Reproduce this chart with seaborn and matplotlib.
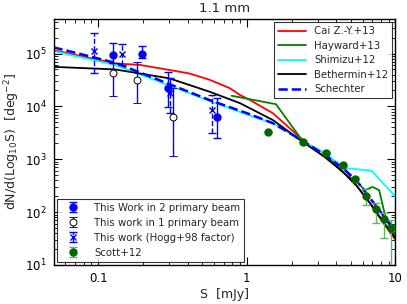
import numpy as np
import pandas as pd
import matplotlib
matplotlib.use("Agg")
import matplotlib.pyplot as plt
import seaborn as sns
from matplotlib.ticker import FixedLocator, NullFormatter, LogLocator

# ---------------- data ----------------
# This work, 2 primary beam
s_two = [0.126, 0.198, 0.296, 0.632]
n_two = [9.5e4, 9.7e4, 2.2e4, 6.4e3]
lo_two = [6.6e4, 8.1e4, 9.7e3, 2.5e3]
hi_two = [1.56e5, 1.40e5, 4.5e4, 1.42e4]

# This work, 1 primary beam
s_one = [0.126, 0.183, 0.317]
n_one = [4.2e4, 3.1e4, 6.4e3]
lo_one = [1.6e4, 1.17e4, 1.15e3]
hi_one = [6.6e4, 6.8e4, 2.2e4]

# This work (Hogg+98 factor)
s_hogg = [0.094, 0.144, 0.303, 0.584]
n_hogg = [1.13e5, 1.0e5, 1.77e4, 8.5e3]
lo_hogg = [4.3e4, 6.06e4, 7.5e3, 3.2e3]
hi_hogg = [2.47e5, 1.49e5, 3.4e4, 1.64e4]

# Scott+12
s_scott = [1.39, 2.39, 3.40, 4.40, 5.38, 6.38, 7.45, 8.36, 9.37]
n_scott = [3.3e3, 2.1e3, 1.3e3, 7.8e2, 4.2e2, 2.05e2, 1.15e2, 73, 50]
lo_scott = [3.3e3, 2.1e3, 1.25e3, 7.3e2, 3.7e2, 1.37e2, 63, 33, 1]
hi_scott = [3.3e3, 2.1e3, 1.35e3, 8.3e2, 4.7e2, 2.7e2, 1.47e2, 97, 71]

# Models
s_cai = [0.05, 0.13, 0.19, 0.30, 0.41, 0.56, 0.77, 0.90, 1.05, 1.50, 2.52, 3.35, 4.42, 5.49, 6.72, 8.47, 10.0]
n_cai = [1.16e5, 6.5e4, 6.1e4, 4.9e4, 4.2e4, 3.2e4, 2.2e4, 1.64e4, 1.32e4, 7.4e3, 2.0e3, 1.1e3, 5.8e2, 3.13e2, 1.49e2, 57, 30]

s_hay = [0.79, 1.57, 2.39, 3.35, 4.44, 5.47, 6.22, 7.0, 7.76, 8.5, 9.1, 10.0]
n_hay = [1.59e4, 1.1e4, 2.15e3, 1.3e3, 5.6e2, 3.8e2, 2.6e2, 3.0e2, 2.6e2, 88, 53, 37]

s_shi = [0.05, 0.13, 0.30, 0.56, 1.05, 1.5, 1.95, 2.38, 3.35, 4.57, 6.9, 10.0]
n_shi = [1.11e5, 6.06e4, 2.5e4, 1.27e4, 6.7e3, 4.8e3, 3.1e3, 2.2e3, 1.3e3, 6.8e2, 6.1e2, 1.96e2]

s_bet = [0.05, 0.13, 0.30, 0.56, 0.90, 1.05, 1.50, 2.38, 3.35, 4.42, 5.49, 6.72, 8.47, 10.0]
n_bet = [5.6e4, 5.0e4, 3.4e4, 1.9e4, 1.15e4, 9.2e3, 5.5e3, 2.12e3, 1.1e3, 5.8e2, 3.13e2, 1.49e2, 60, 32]

s_sch = [0.05, 0.13, 0.30, 0.56, 1.05, 1.5, 2.38, 3.35, 4.42, 5.49, 6.72, 8.74, 10.0]
n_sch = [1.31e5, 6.7e4, 2.65e4, 1.32e4, 7.1e3, 4.8e3, 2.22e3, 1.2e3, 6.85e2, 3.9e2, 1.86e2, 71, 46]

title = "1.1 mm"
xlabel = "S  [mJy]"
ylabel = r"dN/d(Log$_{10}$S)  [deg$^{-2}$]"

# ---------------- plot ----------------
sns.set_style("ticks")
plt.rcParams['font.family'] = ['DejaVu Sans']
plt.rcParams['mathtext.fontset'] = 'dejavusans'

fig = plt.figure(figsize=(4.07, 3.04), dpi=100)
ax = fig.add_axes([53.5/407, 1-265/304, (395.5-53.5)/407, (265-19)/304])

models = [
    ("Cai Z.-Y.+13", s_cai, n_cai, "red", "-", 1.3),
    ("Hayward+13", s_hay, n_hay, "green", "-", 1.3),
    ("Shimizu+12", s_shi, n_shi, "cyan", "-", 1.3),
    ("Bethermin+12", s_bet, n_bet, "black", "-", 1.3),
    ("Schechter", s_sch, n_sch, "blue", "--", 1.8),
]
line_handles = []
for name, s, n, c, ls, lw in models:
    df = pd.DataFrame({"S": s, "N": n})
    sns.lineplot(data=df, x="S", y="N", ax=ax, color=c, linestyle=ls, lw=lw,
                 estimator=None, sort=False, label=name, legend=False)
    line_handles.append(ax.lines[-1])

def yerr(n, lo, hi):
    n = np.asarray(n); lo = np.asarray(lo); hi = np.asarray(hi)
    return np.vstack([n - lo, hi - n])

eb1 = ax.errorbar(s_two, n_two, yerr=yerr(n_two, lo_two, hi_two), fmt='o', color='blue',
                  ms=5, mec='blue', ecolor='blue', elinewidth=1, capsize=3, capthick=1,
                  label="This Work in 2 primary beam", zorder=5)
eb2 = ax.errorbar(s_one, n_one, yerr=yerr(n_one, lo_one, hi_one), fmt='o', color='blue',
                  ms=5, mfc='white', mec='black', mew=0.7, ecolor='blue', elinewidth=1,
                  capsize=3, capthick=1, label="This work in 1 primary beam", zorder=5)
eb3 = ax.errorbar(s_hogg, n_hogg, yerr=yerr(n_hogg, lo_hogg, hi_hogg), fmt='x', color='blue',
                  ms=5, mew=1, ecolor='blue', elinewidth=1, capsize=3, capthick=1,
                  label="This work (Hogg+98 factor)", zorder=5)
eb3[2][0].set_linestyle('--')
eb4 = ax.errorbar(s_scott, n_scott, yerr=yerr(n_scott, lo_scott, hi_scott), fmt='o',
                  color='#006400', ms=5, mec='#006400', ecolor='#5cb85c', elinewidth=1,
                  capsize=3, capthick=1, label="Scott+12", zorder=4)

ax.set_xscale('log')
ax.set_yscale('log')
ax.set_xlim(0.05, 10)
ax.set_ylim(10, 4.5e5)

ax.xaxis.set_major_locator(FixedLocator([0.1, 1, 10]))
ax.set_xticklabels(["0.1", "1", "10"])
ax.xaxis.set_minor_locator(LogLocator(base=10, subs=np.arange(2, 10)))
ax.xaxis.set_minor_formatter(NullFormatter())
ax.yaxis.set_major_locator(LogLocator(base=10, numticks=10))
ax.yaxis.set_minor_locator(LogLocator(base=10, subs=np.arange(2, 10), numticks=20))
ax.yaxis.set_minor_formatter(NullFormatter())

ax.tick_params(which='both', direction='in', top=True, right=True, colors='black')
ax.tick_params(which='major', length=6, width=0.8, labelsize=8.5, pad=5)
ax.tick_params(which='minor', length=3, width=0.6)
for sp in ax.spines.values():
    sp.set_color('black')
    sp.set_linewidth(1.0)

ax.set_title(title, fontsize=9.5, pad=5)
ax.set_xlabel(xlabel, fontsize=9, labelpad=2)
ax.set_ylabel(ylabel, fontsize=9, labelpad=2)

leg1 = ax.legend(handles=line_handles, labels=[m[0] for m in models], loc='upper right',
                 fontsize=7.3, frameon=True, fancybox=False, edgecolor='black',
                 handlelength=2.8, borderaxespad=0.3, labelspacing=0.45, borderpad=0.4)
leg1.get_frame().set_linewidth(0.8)
ax.add_artist(leg1)
leg2 = ax.legend(handles=[eb1, eb2, eb3, eb4],
                 labels=["This Work in 2 primary beam", "This work in 1 primary beam",
                         "This work (Hogg+98 factor)", "Scott+12"],
                 loc='lower left', fontsize=7.3, frameon=True, fancybox=False,
                 edgecolor='black', borderaxespad=0.3, labelspacing=0.5,
                 handlelength=2.5, borderpad=0.4)
leg2.get_frame().set_linewidth(0.8)

fig.savefig("out.png", dpi=100)
